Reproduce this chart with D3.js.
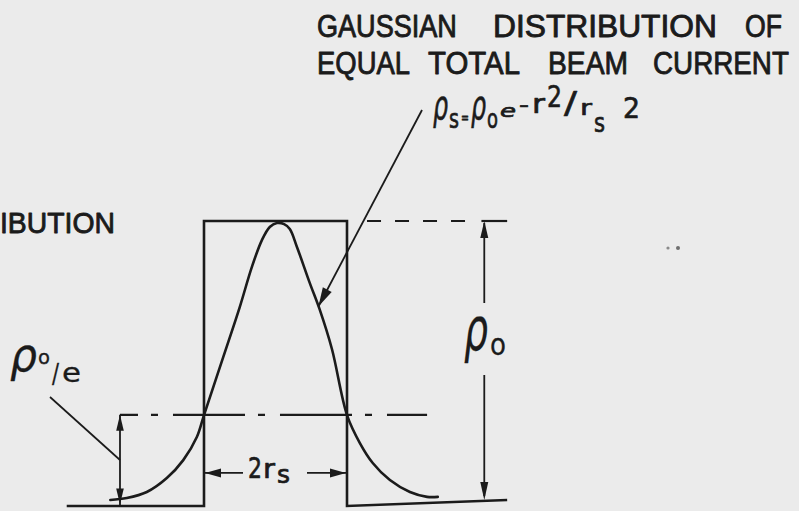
<!DOCTYPE html>
<html>
<head>
<meta charset="utf-8">
<script src="https://cdn.jsdelivr.net/npm/d3@7"></script>
<style>
  html, body { margin: 0; padding: 0; background: #ebebeb; }
  svg { display: block; }
</style>
</head>
<body>
<svg id="fig" width="799" height="511"></svg>
<script>
// Radius in units of rs (uniform beam edges at r = ±1), density in units of ρ0.
const uniformR   = [-2.92, -1, -1, 1, 1, 3.24];
const uniformRho = [0, 0, 1, 1, 0, 0.021];

// Gaussian profile of equal total current, ρs = ρ0 e^(-r²/rs²)
const gaussR   = [-2.31, -2.08, -1.80, -1.52, -1.29, -1.10, -1.00, -0.73, -0.50, -0.33, -0.19, -0.08,
                  0.02, 0.12, 0.20, 0.30, 0.48, 0.62, 0.79, 1.00, 1.18, 1.36, 1.60, 1.88, 2.12, 2.27];
const gaussRho = [0.021, 0.028, 0.049, 0.098, 0.161, 0.242, 0.319, 0.523, 0.698, 0.839, 0.933, 0.979,
                  0.993, 0.989, 0.972, 0.909, 0.782, 0.688, 0.550, 0.319, 0.221, 0.151, 0.091, 0.049, 0.032, 0.032];

// Reference levels
const peakLevel = 1;       // ρ0
const eLevel    = 0.32;    // ρ0/e

// Lettering
const titleLine1 = ["GAUSSIAN", "DISTRIBUTION", "OF"];
const titleLine2 = ["EQUAL", "TOTAL", "BEAM", "CURRENT"];
const sideLabel  = "IBUTION";

const svg = d3.select("#fig");
const ink = "#1b1b1b";

const x = d3.scaleLinear().domain([-1, 1]).range([204, 347]);
const y = d3.scaleLinear().domain([0, 1]).range([506, 221]);

// ---------- profiles ----------
const straight = d3.line().x(d => x(d[0])).y(d => y(d[1]));
svg.append("path")
  .attr("d", straight(d3.zip(uniformR, uniformRho)))
  .attr("fill", "none").attr("stroke", ink)
  .attr("stroke-width", 2.6).attr("stroke-linejoin", "miter");

const smooth = d3.line().x(d => x(d[0])).y(d => y(d[1])).curve(d3.curveCatmullRom.alpha(0.5));
svg.append("path")
  .attr("d", smooth(d3.zip(gaussR, gaussRho)))
  .attr("fill", "none").attr("stroke", ink)
  .attr("stroke-width", 2.6).attr("stroke-linecap", "round");

// ---------- reference levels ----------
svg.append("line")
  .attr("x1", x(1.28)).attr("x2", x(2.75))
  .attr("y1", y(peakLevel)).attr("y2", y(peakLevel))
  .attr("stroke", ink).attr("stroke-width", 2.2)
  .attr("stroke-dasharray", "14 14");
svg.append("line")
  .attr("x1", x(2.88)).attr("x2", x(3.24))
  .attr("y1", y(peakLevel)).attr("y2", y(peakLevel))
  .attr("stroke", ink).attr("stroke-width", 2.2);

svg.append("line")
  .attr("x1", x(-2.175)).attr("x2", x(2.12))
  .attr("y1", y(eLevel)).attr("y2", y(eLevel))
  .attr("stroke", ink).attr("stroke-width", 2.2)
  .attr("stroke-dasharray", "72 13 7 15").attr("stroke-dashoffset", 54);

// ---------- arrows ----------
function head(tx, ty, dx, dy, len = 15, half = 3.8) {
  const n = Math.hypot(dx, dy), ux = dx / n, uy = dy / n;
  const bx = tx - ux * len, by = ty - uy * len;
  return [[tx, ty], [bx - uy * half, by + ux * half], [bx + uy * half, by - ux * half]];
}
function drawHead(pts) {
  svg.append("polygon").attr("points", pts.map(p => p.join(",")).join(" ")).attr("fill", ink);
}
function seg(x1, y1, x2, y2, w = 1.8) {
  svg.append("line").attr("x1", x1).attr("y1", y1).attr("x2", x2).attr("y2", y2)
    .attr("stroke", ink).attr("stroke-width", w);
}

// ρ0 height marker
const xr = x(2.92);
seg(xr, y(peakLevel) + 2, xr, 303);
drawHead(head(xr, y(peakLevel), 0, -1, 17, 4));
seg(xr, 375, xr, y(0.021) - 4);
drawHead(head(xr, y(0.021), 0, 1, 18, 4));

// ρ0/e height marker
const xl = x(-2.175);
seg(xl, y(eLevel), xl, y(0));
drawHead(head(xl, y(eLevel), 0, -1, 16, 3.8));
drawHead(head(xl, y(0.005), 0, 1, 16, 3.8));
seg(50, 397, xl, 460, 1.7);

// 2rs width marker
const yw = y(0.116);
seg(x(-1), yw, 243, yw);
drawHead(head(x(-1) + 1, yw, -1, 0, 16, 4.5));
seg(307, yw, x(1), yw);
drawHead(head(x(1) - 1, yw, 1, 0, 16, 4.5));

// pointer from the formula to the Gaussian curve
const tip = [x(0.6), y(0.7)];
seg(422, 110, tip[0], tip[1], 1.8);
drawHead(head(tip[0], tip[1], tip[0] - 422, tip[1] - 110, 19, 5));

// ---------- lettering ----------
const sans = "'Liberation Sans Narrow', 'Liberation Sans', Arial, sans-serif";
const hand = "'DejaVu Sans', sans-serif";

// Place a string so that it spans exactly x0..x1, squeezing it horizontally.
function fit(str, x0, x1, base, size, family, opts = {}) {
  const t = svg.append("text").attr("x", 0).attr("y", 0)
    .attr("font-family", family).attr("font-size", size).attr("fill", ink)
    .attr("font-style", opts.italic ? "italic" : "normal")
    .text(str);
  if (opts.weight) t.attr("stroke", ink).attr("stroke-width", opts.weight).attr("stroke-linejoin", "round");
  const w = t.node().getComputedTextLength();
  t.attr("transform", `translate(${x0},${base}) scale(${(x1 - x0) / w},1)`);
  return t;
}

const l1 = [[317, 457], [493, 717], [745, 782]];
titleLine1.forEach((t, i) => fit(t, l1[i][0], l1[i][1], 37, 31, sans, { weight: 0.9 }));
const l2 = [[317, 410], [428, 520], [548, 628], [653, 789]];
titleLine2.forEach((t, i) => fit(t, l2[i][0], l2[i][1], 74, 32, sans, { weight: 0.9 }));
fit(sideLabel, 0, 115, 233, 30, sans, { weight: 0.9 });

// hand-lettered symbols: [glyph, x0, width, baseline, size, italic]
function symbols(parts, weight = 0) {
  parts.forEach(([s, gx, w, base, size, italic]) =>
    fit(s, gx, gx + w, base, size, hand, { italic, weight }));
}

// ρs = ρo e^(−r²/rs²)
symbols([
  ["ρ", 433, 15, 119, 40, true],
  ["s", 449, 10, 128, 27, false],
  ["=", 461, 8, 123, 16, false],
  ["ρ", 471, 15, 119, 40, true],
  ["o", 487, 11, 128, 26, false],
  ["e", 500, 16, 117, 17, true],
  ["-", 519, 10, 112, 20, false],
  ["r", 532, 13, 113, 27, false],
  ["2", 547, 15, 107, 30, false],
  ["/", 564, 13, 113, 30, false],
  ["r", 580, 12, 115, 22, false],
  ["s", 594, 11, 132, 26, false],
  ["2", 623, 17, 118, 29, false]
], 0.7);

// ρo/e
symbols([
  ["ρ", 10, 27, 371, 46, true],
  ["o", 38, 12, 364, 19, false],
  ["/", 52, 7, 383, 26, false],
  ["e", 62, 19, 382, 26, false]
], 0.3);

// ρo beside the height marker
symbols([
  ["ρ", 464, 24, 350, 60, true],
  ["o", 490, 16, 355, 30, false]
], 0.3);

// 2rs
symbols([
  ["2", 248, 14, 478, 28, false],
  ["r", 263, 12, 478, 26, false],
  ["s", 277, 13, 483, 24, false]
], 0.7);

// small speck on the sheet
svg.append("circle").attr("cx", 668).attr("cy", 248).attr("r", 1.6).attr("fill", "#8a8a8a");
svg.append("circle").attr("cx", 678).attr("cy", 248).attr("r", 2).attr("fill", "#6e6e6e");
</script>
</body>
</html>
